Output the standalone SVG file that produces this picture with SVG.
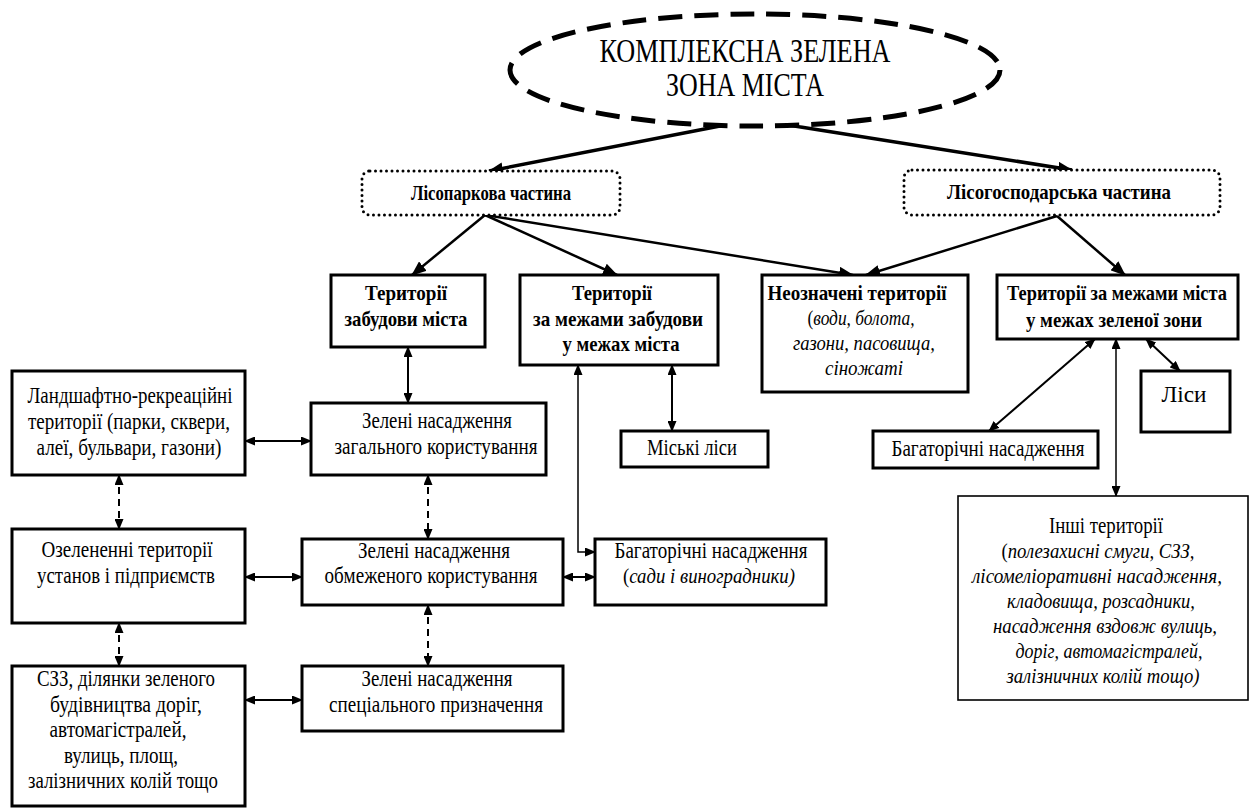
<svg xmlns="http://www.w3.org/2000/svg" width="1253" height="810" viewBox="0 0 1253 810">
<style>
.box{fill:#fff;stroke:#000;stroke-width:3}
.thin{fill:#fff;stroke:#000;stroke-width:1.6}
.dot{fill:#fff;stroke:#000;stroke-width:3;stroke-dasharray:0 5.5;stroke-linecap:round}
.ell{fill:#fff;stroke:#000;stroke-width:5;stroke-dasharray:24 12}
.t{font-family:"Liberation Serif","Times New Roman",serif;font-size:23px;text-anchor:middle;fill:#000}
.b{font-weight:bold;font-size:22px}
.i{font-style:italic;font-size:21px}
.big{font-size:34px}
.c1{fill:none;stroke:#000;stroke-width:3.5}
.c2{fill:none;stroke:#000;stroke-width:2.5}
.c3{fill:none;stroke:#000;stroke-width:2}
.c4{fill:none;stroke:#000;stroke-width:1.5}
.cd{fill:none;stroke:#000;stroke-width:2;stroke-dasharray:7 5}
</style>
<defs>
<marker id="ah" markerUnits="userSpaceOnUse" markerWidth="15" markerHeight="12" viewBox="0 0 15 12" refX="14" refY="6" orient="auto-start-reverse"><path d="M0,0 L15,6 L0,12 z" fill="#000"/></marker>
<marker id="as" markerUnits="userSpaceOnUse" markerWidth="11" markerHeight="9" viewBox="0 0 11 9" refX="10" refY="4.5" orient="auto-start-reverse"><path d="M0,0 L11,4.5 L0,9 z" fill="#000"/></marker>
</defs>
<rect width="1253" height="810" fill="#fff"/>

<g id="connectors">
<path class="c1" d="M720,126 L489,171" marker-end="url(#ah)"/>
<path class="c1" d="M788,125 L1072,170" marker-end="url(#ah)"/>
<path class="c2" d="M485,215 L412,275" marker-end="url(#ah)"/>
<path class="c2" d="M485,215 L617,275" marker-end="url(#ah)"/>
<path class="c2" d="M485,215 L853,275" marker-end="url(#ah)"/>
<path class="c2" d="M1057,216 L866,275" marker-end="url(#ah)"/>
<path class="c2" d="M1057,216 L1125,275" marker-end="url(#ah)"/>
<path class="c3" d="M408,347 L408,403" marker-start="url(#as)" marker-end="url(#as)"/>
<path class="c3" d="M245,441 L311,441" marker-start="url(#as)" marker-end="url(#as)"/>
<path class="cd" d="M119,475 L119,529" marker-start="url(#as)" marker-end="url(#as)"/>
<path class="cd" d="M428,475 L428,539" marker-start="url(#as)" marker-end="url(#as)"/>
<path class="c3" d="M245,577 L302,577" marker-start="url(#as)" marker-end="url(#as)"/>
<path class="cd" d="M119,623 L119,666" marker-start="url(#as)" marker-end="url(#as)"/>
<path class="cd" d="M428,605 L428,666" marker-start="url(#as)" marker-end="url(#as)"/>
<path class="c3" d="M245,700 L302,700" marker-start="url(#as)" marker-end="url(#as)"/>
<path class="c3" d="M563,577 L595,577" marker-start="url(#as)" marker-end="url(#as)"/>
<path class="c4" d="M578,365 L578,552 L595,552" marker-start="url(#as)" marker-end="url(#as)"/>
<path class="c3" d="M672,365 L672,431" marker-start="url(#as)" marker-end="url(#as)"/>
<path class="c3" d="M1095,339 L989,431" marker-start="url(#as)" marker-end="url(#as)"/>
<path class="c4" d="M1116,339 L1116,496" marker-start="url(#as)" marker-end="url(#as)"/>
<path class="c3" d="M1146,339 L1180,371" marker-start="url(#as)" marker-end="url(#as)"/>
</g>

<g id="root">
<ellipse class="ell" cx="755" cy="70" rx="245" ry="56"/>
<text class="t big" x="745" y="62" textLength="291" lengthAdjust="spacingAndGlyphs">КОМПЛЕКСНА ЗЕЛЕНА</text>
<text class="t big" x="745" y="96" textLength="158" lengthAdjust="spacingAndGlyphs">ЗОНА МІСТА</text>
</g>

<g id="lisopark">
<rect class="dot" x="362" y="171" width="258" height="44" rx="8"/>
<text class="t b" x="491" y="200" textLength="160" lengthAdjust="spacingAndGlyphs">Лісопаркова частина</text>
</g>

<g id="lisogosp">
<rect class="dot" x="904" y="170" width="316" height="45" rx="8"/>
<text class="t b" x="1059" y="199" textLength="224" lengthAdjust="spacingAndGlyphs">Лісогосподарська частина</text>
</g>

<g id="terr-zabud">
<rect class="box" x="331" y="275" width="154" height="72"/>
<text class="t b" x="406" y="300" textLength="82" lengthAdjust="spacingAndGlyphs">Території</text>
<text class="t b" x="406" y="326" textLength="123" lengthAdjust="spacingAndGlyphs">забудови міста</text>
</g>

<g id="terr-mezhi-zabud">
<rect class="box" x="520" y="275" width="198" height="90"/>
<text class="t b" x="612" y="300" textLength="80" lengthAdjust="spacingAndGlyphs">Території</text>
<text class="t b" x="618" y="326" textLength="170" lengthAdjust="spacingAndGlyphs">за межами забудови</text>
<text class="t b" x="621" y="351" textLength="117" lengthAdjust="spacingAndGlyphs">у межах міста</text>
</g>

<g id="neoznach">
<rect class="box" x="762" y="275" width="206" height="117"/>
<text class="t b" x="857" y="300" textLength="179" lengthAdjust="spacingAndGlyphs">Неозначені території</text>
<text class="t i" x="861" y="325" textLength="107" lengthAdjust="spacingAndGlyphs"><tspan font-style="normal">(</tspan>води, болота,</text>
<text class="t i" x="864" y="350" textLength="142" lengthAdjust="spacingAndGlyphs">газони, пасовища,</text>
<text class="t i" x="864" y="375" textLength="78" lengthAdjust="spacingAndGlyphs">сіножаті</text>
</g>

<g id="terr-mezhi-mista">
<rect class="box" x="997" y="275" width="241" height="64"/>
<text class="t b" x="1117" y="300" font-size="18" textLength="220" lengthAdjust="spacingAndGlyphs">Території за межами міста</text>
<text class="t b" x="1114" y="327" textLength="176" lengthAdjust="spacingAndGlyphs">у межах зеленої зони</text>
</g>

<g id="lisy">
<rect class="box" x="1141" y="371" width="89" height="61"/>
<text class="t" x="1184" y="402" textLength="45" lengthAdjust="spacingAndGlyphs">Ліси</text>
</g>

<g id="bagat-right">
<rect class="box" x="873" y="431" width="225" height="37"/>
<text class="t" x="988" y="456" textLength="193" lengthAdjust="spacingAndGlyphs">Багаторічні насадження</text>
</g>

<g id="miski-lisy">
<rect class="box" x="621" y="431" width="147" height="36"/>
<text class="t" x="692" y="455" textLength="90" lengthAdjust="spacingAndGlyphs">Міські ліси</text>
</g>

<g id="zel-zag">
<rect class="box" x="311" y="403" width="235" height="72"/>
<text class="t" x="437" y="428" textLength="150" lengthAdjust="spacingAndGlyphs">Зелені насадження</text>
<text class="t" x="436" y="454" textLength="203" lengthAdjust="spacingAndGlyphs">загального користування</text>
</g>

<g id="landsh">
<rect class="box" x="12" y="371" width="233" height="104"/>
<text class="t" x="130" y="403" textLength="205" lengthAdjust="spacingAndGlyphs">Ландшафтно-рекреаційні</text>
<text class="t" x="129" y="429" textLength="202" lengthAdjust="spacingAndGlyphs">території (парки, сквери,</text>
<text class="t" x="129" y="455" textLength="185" lengthAdjust="spacingAndGlyphs">алеї, бульвари, газони)</text>
</g>

<g id="ozelen">
<rect class="box" x="12" y="529" width="233" height="94"/>
<text class="t" x="127" y="557" textLength="171" lengthAdjust="spacingAndGlyphs">Озелененні території</text>
<text class="t" x="126" y="583" textLength="178" lengthAdjust="spacingAndGlyphs">установ і підприємств</text>
</g>

<g id="zel-obm">
<rect class="box" x="302" y="539" width="261" height="66"/>
<text class="t" x="434" y="558" textLength="152" lengthAdjust="spacingAndGlyphs">Зелені насадження</text>
<text class="t" x="431" y="583" textLength="213" lengthAdjust="spacingAndGlyphs">обмеженого користування</text>
</g>

<g id="bagat-sady">
<rect class="box" x="595" y="539" width="231" height="66"/>
<text class="t" x="711" y="558" textLength="193" lengthAdjust="spacingAndGlyphs">Багаторічні насадження</text>
<text class="t i" x="709" y="583" textLength="172" lengthAdjust="spacingAndGlyphs"><tspan font-style="normal">(</tspan>сади і виноградники)</text>
</g>

<g id="szz">
<rect class="box" x="12" y="666" width="233" height="140"/>
<text class="t" x="126" y="686" textLength="178" lengthAdjust="spacingAndGlyphs">СЗЗ, ділянки зеленого</text>
<text class="t" x="126" y="712" textLength="152" lengthAdjust="spacingAndGlyphs">будівництва доріг,</text>
<text class="t" x="118" y="737" textLength="137" lengthAdjust="spacingAndGlyphs">автомагістралей,</text>
<text class="t" x="121" y="763" textLength="114" lengthAdjust="spacingAndGlyphs">вулиць, площ,</text>
<text class="t" x="123" y="788" textLength="190" lengthAdjust="spacingAndGlyphs">залізничних колій тощо</text>
</g>

<g id="zel-spec">
<rect class="box" x="302" y="666" width="261" height="65"/>
<text class="t" x="437" y="686" textLength="151" lengthAdjust="spacingAndGlyphs">Зелені насадження</text>
<text class="t" x="436" y="712" textLength="214" lengthAdjust="spacingAndGlyphs">спеціального призначення</text>
</g>

<g id="inshi">
<rect class="thin" x="958" y="496" width="290" height="204"/>
<text class="t" x="1106" y="533" font-size="21" textLength="114" lengthAdjust="spacingAndGlyphs">Інші території</text>
<text class="t i" x="1098" y="558" textLength="193" lengthAdjust="spacingAndGlyphs"><tspan font-style="normal">(</tspan>полезахисні смуги, СЗЗ,</text>
<text class="t i" x="1097" y="583" textLength="250" lengthAdjust="spacingAndGlyphs">лісомеліоративні насадження,</text>
<text class="t i" x="1101" y="608" textLength="188" lengthAdjust="spacingAndGlyphs">кладовища, розсадники,</text>
<text class="t i" x="1105" y="633" textLength="224" lengthAdjust="spacingAndGlyphs">насадження вздовж вулиць,</text>
<text class="t i" x="1109" y="658" textLength="187" lengthAdjust="spacingAndGlyphs">доріг, автомагістралей,</text>
<text class="t i" x="1103" y="683" textLength="193" lengthAdjust="spacingAndGlyphs">залізничних колій тощо)</text>
</g>
</svg>
